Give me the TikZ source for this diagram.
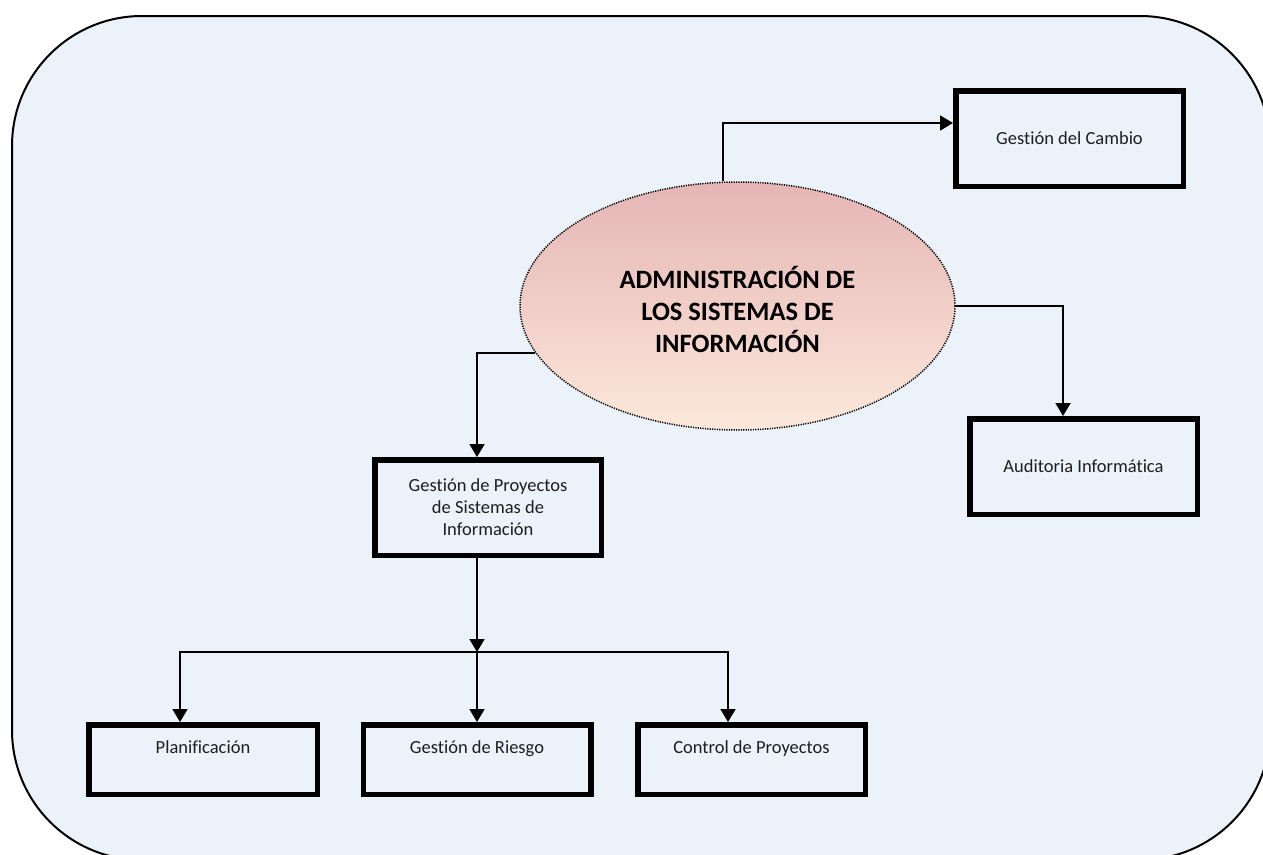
\documentclass[tikz,border=0pt]{standalone}
\usepackage{fontspec}
\setmainfont{Carlito}[Ligatures={NoCommon}]
\usetikzlibrary{shapes.geometric,arrows.meta}
\definecolor{bgfill}{RGB}{236,242,250}
\definecolor{elltop}{RGB}{229,181,181}
\definecolor{ellbot}{RGB}{252,232,219}
\definecolor{txt}{RGB}{30,30,30}
\begin{document}
\begin{tikzpicture}[x=1pt,y=-1pt,
  box/.style={draw=black,line width=5.5pt,minimum width=227.5pt,minimum height=95.5pt,inner sep=0pt,
    font=\fontsize{18.5}{22}\selectfont,text=txt,align=center},
  lowbox/.style={box,minimum height=69.5pt,text height=12pt,text depth=24pt},
  conn/.style={line width=1.8pt,-{Triangle[width=15pt,length=13pt]}},
  link/.style={line width=1.8pt}]
\useasboundingbox (0,0) rectangle (1263,854);
\clip (0,0) rectangle (1263,854);
\fill[white] (0,0) rectangle (1263,854);
\draw[line width=2pt,fill=bgfill,rounded corners=130pt] (12,16) rectangle (1270,860);

\node[ellipse,draw,line width=1.5pt,dash pattern=on 1.2pt off 1.2pt,top color=elltop,bottom color=ellbot,
  minimum width=435pt,minimum height=248pt,inner sep=0pt,align=center,
  font=\bfseries\fontsize{26.5}{32}\selectfont] (ell) at (737.5,306)
  {\rule{0pt}{30pt}ADMINISTRACIÓN DE\\LOS SISTEMAS DE\\INFORMACIÓN};

\node[box] (cam) at (1069.5,138.5) {Gestión del Cambio};
\node[box] (aud) at (1083.5,466.5) {Auditoria Informática};
\node[box,minimum width=226.5pt] (gpsi) at (488,507.5) {Gestión de Proyectos\\de Sistemas de\\Información};
\node[lowbox,minimum width=228.5pt] (plan) at (203,759.5) {Planificación};
\node[lowbox] (ries) at (477,759.5) {Gestión de Riesgo};
\node[lowbox] (ctrl) at (751.5,759.5) {Control de Proyectos};

\coordinate (split) at (477,652);

\draw[conn] ([xshift=-14.5pt]ell.north) |- ([yshift=15.5pt]cam.west);
\draw[conn] (ell.east) -| ([xshift=-20.5pt]aud.north);
\draw[conn] (ell.193.8) -| ([xshift=-11pt]gpsi.north);
\draw[conn] ([xshift=-11pt]gpsi.south) -- (split);
\draw[conn] (split) -| ([xshift=-23pt]plan.north);
\draw[conn] (split) -- (ries.north);
\draw[conn] (split) -| ([xshift=-23.5pt]ctrl.north);
\end{tikzpicture}
\end{document}
